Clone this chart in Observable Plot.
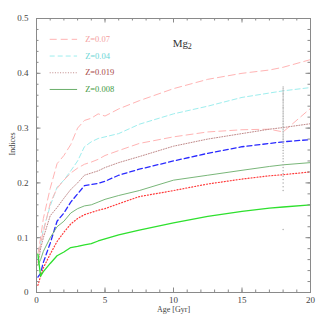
<!DOCTYPE html>
<html><head><meta charset="utf-8">
<script src="https://cdn.jsdelivr.net/npm/d3@7"></script>
<script src="https://cdn.jsdelivr.net/npm/@observablehq/plot@0.6"></script>
<style>html,body{margin:0;padding:0;background:#fff;}</style>
</head><body><div id="chart"></div>
<script>
const ages = [0.1, 0.3, 0.5, 1, 1.5, 2, 2.5, 3, 3.5, 4, 4.5, 5, 6, 7.5, 10, 12.5, 15, 17, 18, 20];
const pinkUpper  = [0.07,0.10,0.135,0.19,0.235,0.25,0.27,0.30,0.314,0.318,0.326,0.322,0.335,0.35,0.372,0.389,0.40,0.406,0.411,0.425];
const cyanA      = [0.06,0.09,0.115,0.158,0.192,0.205,0.222,0.24,0.266,0.275,0.281,0.284,0.29,0.307,0.326,0.34,0.356,0.364,0.368,0.374];
const pinkLower  = [0.055,0.09,0.11,0.163,0.19,0.205,0.218,0.227,0.234,0.238,0.243,0.25,0.259,0.272,0.284,0.293,0.297,0.298,0.293,0.336];
const brownDot   = [0.05,0.08,0.10,0.14,0.155,0.172,0.188,0.20,0.214,0.218,0.222,0.228,0.237,0.248,0.267,0.28,0.29,0.298,0.301,0.308];
const blueDash   = [0.028,0.035,0.055,0.09,0.13,0.145,0.165,0.18,0.195,0.197,0.199,0.203,0.214,0.225,0.24,0.254,0.266,0.272,0.275,0.279];
const greenThin  = [0.05,0.06,0.075,0.10,0.12,0.13,0.145,0.153,0.158,0.16,0.165,0.17,0.177,0.186,0.205,0.214,0.223,0.23,0.233,0.237];
const redDot     = [0.013,0.03,0.045,0.07,0.093,0.11,0.125,0.135,0.142,0.146,0.15,0.153,0.162,0.175,0.186,0.198,0.207,0.213,0.215,0.22];
const greenBright= [0.07,0.03,0.038,0.053,0.067,0.074,0.082,0.084,0.087,0.089,0.094,0.098,0.105,0.114,0.127,0.139,0.148,0.154,0.156,0.16];

const obsAge = 18;
const obsValues = [0.375,0.372,0.369,0.366,0.363,0.361,0.358,0.355,0.352,0.35,0.347,0.344,0.341,0.338,0.336,0.333,0.33,0.327,0.324,0.321,0.318,0.315,0.312,0.309,0.306,0.303,0.3,0.297,0.294,0.291,0.288,0.285,0.282,0.279,0.276,0.272,0.268,0.264,0.259,0.254,0.249,0.244,0.239,0.233,0.228,0.222,0.217,0.212,0.206,0.2,0.193,0.186,0.115];

const legendLabels = ["Z=0.07", "Z=0.04", "Z=0.019", "Z=0.008"];
const xMajor = [0, 5, 10, 15, 20];
const xMinor = d3.range(0, 21, 1);
const yMajor = [0, 0.1, 0.2, 0.3, 0.4, 0.5];
const yMinor = d3.range(0, 0.501, 0.02);

const series = [
  {v: pinkUpper,  stroke: "#ffb4b4", dash: "7,4", w: 1},
  {v: cyanA,      stroke: "#9eeeee", dash: "5,3", w: 1},
  {v: pinkLower,  stroke: "#ffb4b4", dash: "7,4", w: 1},
  {v: brownDot,   stroke: "#c08a8a", dash: "1,1.6", w: 1},
  {v: blueDash,   stroke: "#2a2aff", dash: "5,3", w: 1.3},
  {v: greenThin,  stroke: "#6aae6a", dash: null, w: 0.9},
  {v: redDot,     stroke: "#ff3a3a", dash: "1,2", w: 1.2},
  {v: greenBright,stroke: "#2ee02e", dash: null, w: 1.3}
];
const legendStyle = [
  {stroke: "#ffb4b4", dash: "7,4", text: "#f4a0a0"},
  {stroke: "#9eeeee", dash: "5,3", text: "#6ad6d6"},
  {stroke: "#c08a8a", dash: "1,1.6", text: "#a84848"},
  {stroke: "#6aae6a", dash: null, text: "#3f993f"}
];

const W = 327, H = 327, mL = 36, mR = 17, mT = 18, mB = 35;
const pw = W - mL - mR, ph = H - mT - mB;
const axisColor = "#8a8a8a";

const marks = [];
series.forEach(s => {
  marks.push(Plot.line(ages.map((a, i) => ({a, v: s.v[i]})), {
    x: "a", y: "v", stroke: s.stroke, strokeWidth: s.w, strokeDasharray: s.dash
  }));
});
marks.push(Plot.dot(obsValues, {x: () => obsAge, y: d => d, r: 0.75, fill: "#b0b0b0", stroke: null}));

// legend
const legendData = legendLabels.map((t, i) => ({t, i, y: 0.462 - i * 0.0305}));
legendData.forEach((d, i) => {
  marks.push(Plot.ruleY([d], {y: "y", x1: () => 1.0, x2: () => 3.0, stroke: legendStyle[i].stroke, strokeDasharray: legendStyle[i].dash, strokeWidth: 1}));
});
marks.push(Plot.text(legendData, {x: () => 3.55, y: "y", text: "t", textAnchor: "start", fill: (d) => legendStyle[d.i].text, fontSize: 8.5}));
marks.push(Plot.text(["Mg"], {x: () => 9.95, y: () => 0.455, text: d => d, textAnchor: "start", fontSize: 11, fill: "#333"}));
marks.push(Plot.text(["2"], {x: () => 9.95, y: () => 0.455, text: d => d, textAnchor: "start", dx: 15, dy: 3, fontSize: 8, fill: "#333"}));

// ticks inside on all four sides
marks.push(Plot.tickX(xMinor, {x: d => d, stroke: axisColor, insetTop: ph - 2.5}));
marks.push(Plot.tickX(xMinor, {x: d => d, stroke: axisColor, insetBottom: ph - 2.5}));
marks.push(Plot.tickX(xMajor, {x: d => d, stroke: axisColor, insetTop: ph - 4.5}));
marks.push(Plot.tickX(xMajor, {x: d => d, stroke: axisColor, insetBottom: ph - 4.5}));
marks.push(Plot.tickY(yMinor, {y: d => d, stroke: axisColor, insetRight: pw - 2.5}));
marks.push(Plot.tickY(yMinor, {y: d => d, stroke: axisColor, insetLeft: pw - 2.5}));
marks.push(Plot.tickY(yMajor, {y: d => d, stroke: axisColor, insetRight: pw - 4.5}));
marks.push(Plot.tickY(yMajor, {y: d => d, stroke: axisColor, insetLeft: pw - 4.5}));
marks.push(Plot.frame({stroke: axisColor, strokeWidth: 1}));

marks.push(Plot.axisX({ticks: xMajor, tickSize: 0, tickPadding: 4, tickFormat: d3.format("d"), label: null, fill: "#444", fontSize: 9}));
marks.push(Plot.axisY({ticks: yMajor, tickSize: 0, tickPadding: 8, tickFormat: d => d === 0 ? "0" : d3.format(".1f")(d), label: null, fill: "#444", fontSize: 9}));
marks.push(Plot.text(["Age [Gyr]"], {frameAnchor: "bottom", dy: 17, lineAnchor: "middle", text: d => d, fontSize: 8, fill: "#444"}));
marks.push(Plot.text(["Indices"], {frameAnchor: "left", dx: -24, rotate: -90, text: d => d, fontSize: 8, fill: "#444"}));

const chart = Plot.plot({
  width: W, height: H,
  marginLeft: mL, marginRight: mR, marginTop: mT, marginBottom: mB,
  x: {domain: [0, 20]},
  y: {domain: [0, 0.5]},
  style: {fontFamily: "Liberation Serif, DejaVu Serif, serif", background: "#fff", overflow: "visible"},
  marks
});
document.getElementById("chart").appendChild(chart);
</script>
</body></html>
